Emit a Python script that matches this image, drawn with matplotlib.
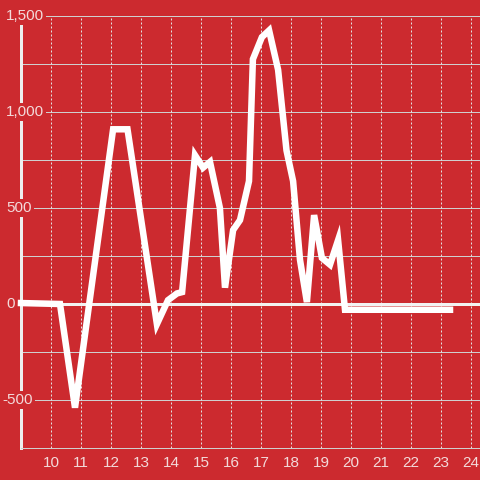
import matplotlib
matplotlib.use("Agg")
import matplotlib.pyplot as plt
from matplotlib import transforms

# ---- data ----
hours = [9.0, 10.3, 10.8, 12.07, 12.55, 13.53, 13.9, 14.2, 14.37, 14.8, 15.07, 15.3,
         15.63, 15.8, 16.07, 16.3, 16.6, 16.73, 17.03, 17.27, 17.57, 17.85, 18.07,
         18.3, 18.53, 18.77, 19.03, 19.3, 19.57, 19.8, 23.3]
values = [5, 0, -540, 910, 910, -105, 20, 55, 62, 775, 710, 740,
          500, 85, 385, 437, 640, 1275, 1390, 1425, 1220, 800, 640,
          230, 10, 463, 240, 205, 333, -30, -30]
x_ticks = list(range(10, 25))
x_labels = [str(t) for t in x_ticks]
y_ticks = [-500, 0, 500, 1000, 1500]
y_labels = ["-500", "0", "500", "1,000", "1,500"]
y_grid = [-500, -250, 250, 500, 750, 1000, 1250, 1500]

BG = "#cc2a2f"
TXT = "#f3dada"
W, H = 480, 480
DPI = 100

fig = plt.figure(figsize=(W / DPI, H / DPI), dpi=DPI, facecolor=BG)
ax = fig.add_axes([21 / W, 32 / H, 459 / W, 432 / H], facecolor=BG)
ax.set_xlim(9, 9 + 459 / 30)
ax.set_ylim(-750, 1500)

px = 72 / DPI  # points per pixel

# horizontal grid
for g in y_grid:
    ax.axhline(g, color="#cfcfcf", lw=1 * px, zorder=1)
# vertical dotted grid
for t in x_ticks:
    ax.axvline(t, color="#e2e2e2", lw=1 * px, dashes=(2, 2), zorder=1)
# zero line
ax.axhline(0, color="#f2f2f2", lw=3 * px, zorder=2)

ax.plot(hours, values, color="white", lw=6.5 * px, solid_joinstyle="miter",
        solid_capstyle="projecting", zorder=4, clip_on=False)

for s in ["top", "right"]:
    ax.spines[s].set_visible(False)
ax.spines["left"].set_color("#eeeeee")
ax.spines["left"].set_linewidth(3 * px)
ax.spines["bottom"].set_color("#cfcfcf")
ax.spines["bottom"].set_linewidth(1 * px)

ax.set_xticks(x_ticks)
ax.set_xticklabels(x_labels, fontsize=11, color=TXT, family=["Liberation Sans", "DejaVu Sans"])
ax.tick_params(axis="x", length=0, pad=6)
ax.set_yticks([])

trans = transforms.blended_transform_factory(fig.transFigure, ax.transData)
for v, lab in zip(y_ticks, y_labels):
    xpos = (2.5 if lab.startswith("-") else 6) / W
    ax.text(xpos, v, lab, transform=trans, ha="left", va="center", fontsize=11,
            color=TXT, family=["Liberation Sans", "DejaVu Sans"], zorder=5, clip_on=False,
            bbox=dict(facecolor=BG, edgecolor="none", pad=1.5))

fig.savefig("out.png", dpi=DPI, facecolor=BG)
